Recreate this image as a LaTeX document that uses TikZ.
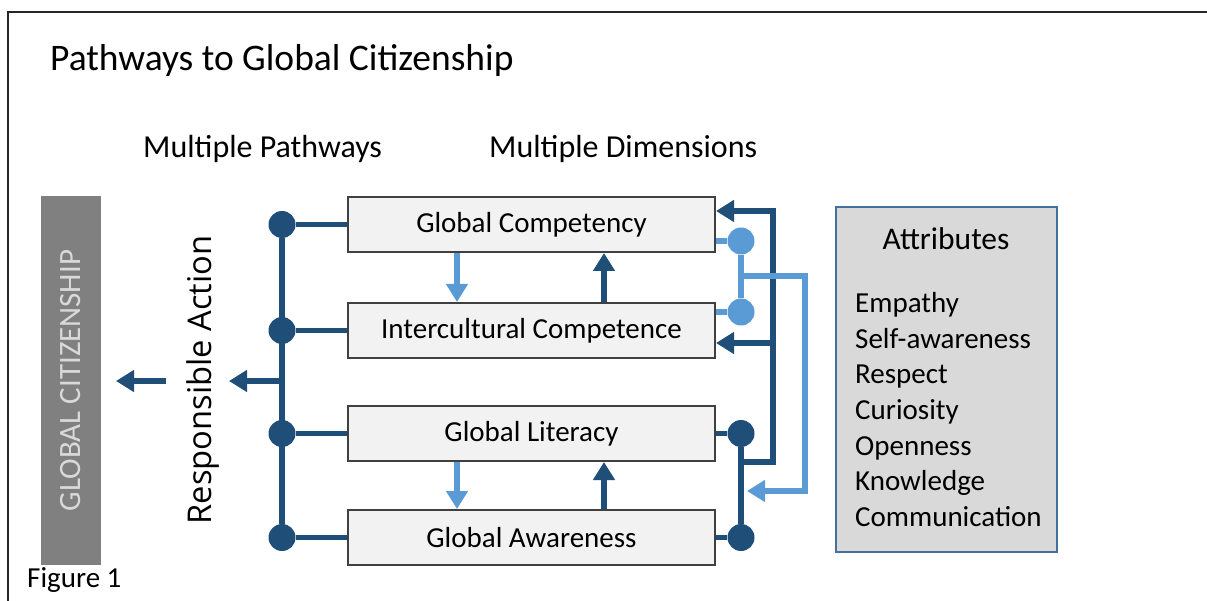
\documentclass[tikz,border=0pt]{standalone}
\usepackage{fontspec}
\setmainfont{Carlito}
\newfontfamily\rafont{Open Sans}
\usetikzlibrary{arrows.meta}
\definecolor{navy}{HTML}{1F4E79}
\definecolor{sky}{HTML}{5B9BD5}
\definecolor{boxfill}{HTML}{F2F2F2}
\definecolor{boxline}{HTML}{404040}
\definecolor{attrfill}{HTML}{D9D9D9}
\definecolor{attrline}{HTML}{41719C}
\definecolor{citfill}{HTML}{808080}
\definecolor{cittext}{HTML}{D9D9D9}
\newcommand{\fs}[1]{\fontsize{#1}{#1}\selectfont}
\tikzset{
  dimbox/.style={draw=boxline, line width=2pt, fill=boxfill, minimum width=367pt,
    minimum height=55pt, inner sep=0pt, font=\fs{29}},
  navydot/.style={circle, fill=navy, minimum size=27pt, inner sep=0pt},
  skydot/.style={circle, fill=sky, minimum size=27pt, inner sep=0pt},
  navylink/.style={draw=navy, line width=5.5pt},
  skylink/.style={draw=sky, line width=5.5pt},
  navyarrow/.style={navylink, -{Triangle[length=18pt,width=21pt]}},
  skyarrow/.style={skylink, -{Triangle[length=18pt,width=21pt]}},
  attr/.style={anchor=base west, inner sep=0pt, font=\fs{29}},
  heading/.style={anchor=base west, inner sep=0pt, font=\fs{32}},
}
\begin{document}
\begin{tikzpicture}[x=1pt, y=-1pt]
\useasboundingbox (0,0) rectangle (1207,601);
\fill[white] (0,0) rectangle (1207,601);

% frame lines
\draw[line width=2.5pt, black!85] (1207,12) -- (8,12) -- (8,601);

% headings
\node[anchor=base west, inner sep=0pt, font=\fs{37.5}] (title) at (50,71) {Pathways to Global Citizenship};
\node[heading] (hpath) at (143,158) {Multiple Pathways};
\node[heading] (hdim) at (489,158) {Multiple Dimensions};
\node[anchor=base west, inner sep=0pt, font=\fs{29}] (fig) at (27,587) {Figure 1};

% global citizenship bar
\node[fill=citfill, rotate=90, minimum width=369pt, minimum height=60pt, inner sep=0pt,
      text=cittext, font=\fs{31}] (cit) at (71,380.5) {GLOBAL CITIZENSHIP};

% responsible action label
\node[rotate=90, anchor=base, inner sep=0pt, font=\rafont\fs{32.7}] (ra) at (211,380) {Responsible Action};

% dimension boxes
\node[dimbox] (gc) at (531.5,224.5) {Global Competency};
\node[dimbox] (ic) at (531.5,330.5) {Intercultural Competence};
\node[dimbox] (gl) at (531.5,433.5) {Global Literacy};
\node[dimbox] (ga) at (531.5,537.5) {Global Awareness};

% left pathway bus
\node[navydot] (pd1) at (282,224.5) {};
\node[navydot] (pd2) at (282,330.5) {};
\node[navydot] (pd3) at (282,433.5) {};
\node[navydot] (pd4) at (282,537.5) {};
\draw[navylink] (pd1) -- (pd4);
\draw[navylink] (pd1) -- (gc.west);
\draw[navylink] (pd2) -- (ic.west);
\draw[navylink] (pd3) -- (gl.west);
\draw[navylink] (pd4) -- (ga.west);
\coordinate (busmid) at (282,381);
\coordinate (ratip) at (229,381);
\draw[navyarrow] (busmid) -- (ratip);
\coordinate (citstart) at (166,381);
\coordinate (cittip) at (116,381);
\draw[navyarrow] (citstart) -- (cittip);

% arrows between boxes
\coordinate (dnx) at (457,0);
\coordinate (upx) at (604,0);
\draw[skyarrow] (gc.south -| dnx) -- (ic.north -| dnx);
\draw[navyarrow] (ic.north -| upx) -- (gc.south -| upx);
\draw[skyarrow] (gl.south -| dnx) -- (ga.north -| dnx);
\draw[navyarrow] (ga.north -| upx) -- (gl.south -| upx);

% right side: dark feedback loop
\node[navydot] (rd3) at (741,433.5) {};
\node[navydot] (rd4) at (741,537.5) {};
\draw[navylink] (gl.east) -- (rd3);
\draw[navylink] (ga.east) -- (rd4);
\draw[navylink] (rd3) -- (rd4);
\coordinate (lpjoin) at (741,462);
\coordinate (lpbot) at (773,462);
\coordinate (lptop) at (773,211);
\coordinate (lpmid) at (773,343);
\draw[navylink, line join=miter] (lpjoin) -- (lpbot) -- (lptop) -- ++(-2.75,0);
\draw[navyarrow] (lptop) -- (gc.east |- lptop);
\draw[navyarrow] (lpmid) -- (ic.east |- lpmid);

% right side: light feedback loop
\node[skydot] (ld1) at (741,241) {};
\node[skydot] (ld2) at (741,312) {};
\draw[skylink] (gc.east |- ld1) -- (ld1);
\draw[skylink] (ic.east |- ld2) -- (ld2);
\draw[skylink] (ld1) -- (ld2);
\coordinate (skyjoin) at (741,276);
\coordinate (skyr1) at (805,276);
\coordinate (skyr2) at (805,491);
\coordinate (skytip) at (747,491);
\draw[skyarrow, line join=miter] (skyjoin) -- (skyr1) -- (skyr2) -- (skytip);

% attributes panel
\node[draw=attrline, line width=2pt, fill=attrfill, minimum width=221pt, minimum height=345pt,
      inner sep=0pt] (attrs) at (946.5,379.5) {};
\node[anchor=base, inner sep=0pt, font=\fs{31.5}] (attrtitle) at (946,250) {Attributes};
\node[attr] (a1) at (855,313) {Empathy};
\node[attr] (a2) at (855,348.5) {Self-awareness};
\node[attr] (a3) at (855,384) {Respect};
\node[attr] (a4) at (855,419.5) {Curiosity};
\node[attr] (a5) at (855,455) {Openness};
\node[attr] (a6) at (855,490.5) {Knowledge};
\node[attr] (a7) at (855,526) {Communication};
\end{tikzpicture}
\end{document}
